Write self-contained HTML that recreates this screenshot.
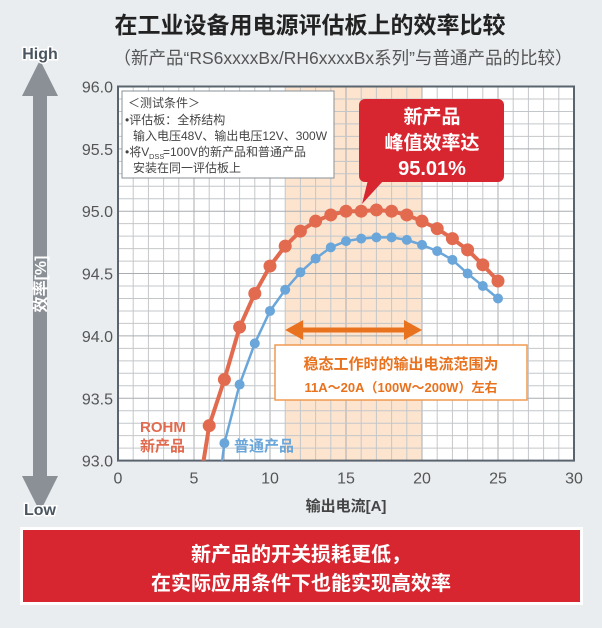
<!DOCTYPE html>
<html><head><meta charset="utf-8"><style>
html,body{margin:0;padding:0;background:#e9edf0;}
body{width:602px;height:623px;overflow:hidden;font-family:"Liberation Sans","Noto Sans CJK SC",sans-serif;}
svg text{font-family:"Liberation Sans","Noto Sans CJK SC",sans-serif;}
</style></head><body>
<svg id="chart" width="602" height="623" viewBox="0 0 602 623" xmlns="http://www.w3.org/2000/svg">
<text x="310" y="33" text-anchor="middle" font-size="23" font-weight="bold" fill="#222">在工业设备用电源评估板上的效率比较</text>
<text x="343" y="64" text-anchor="middle" font-size="17.5" fill="#555">（新产品“RS6xxxxBx/RH6xxxxBx系列”与普通产品的比较）</text>
<g id="plot"></g>
<g>
<rect x="33" y="80" width="14" height="410" fill="#8a9096"/>
<polygon points="40,60 22,96 58,96" fill="#8a9096"/>
<polygon points="40,512 22,476 58,476" fill="#8a9096"/>
</g>
<text x="40" y="59" text-anchor="middle" font-size="16" font-weight="bold" fill="#4a5560" stroke="#fff" stroke-width="3" paint-order="stroke">High</text>
<text x="40" y="515" text-anchor="middle" font-size="16" font-weight="bold" fill="#4a5560" stroke="#fff" stroke-width="3" paint-order="stroke">Low</text>
<text transform="translate(46,284) rotate(-90)" text-anchor="middle" font-size="16" font-weight="bold" fill="#fff">效率[%]</text>
<text x="346" y="511" text-anchor="middle" font-size="15" font-weight="bold" fill="#444">输出电流[A]</text>
<g>
<rect x="20" y="527" width="563" height="78" fill="#fff"/>
<rect x="23" y="530" width="557" height="72" fill="#d72630"/>
<text x="301" y="561" text-anchor="middle" font-size="20" font-weight="bold" fill="#fff">新产品的开关损耗更低，</text>
<text x="301" y="590" text-anchor="middle" font-size="20" font-weight="bold" fill="#fff">在实际应用条件下也能实现高效率</text>
</g>
</svg>
<script>
const xTicks=[0,5,10,15,20,25,30];
const yTicks=[93.0,93.5,94.0,94.5,95.0,95.5,96.0];
const rohmX=[5.5,6,7,8,9,10,11,12,13,14,15,16,17,18,19,20,21,22,23,24,25];
const rohmY=[92.9,93.28,93.65,94.07,94.34,94.56,94.72,94.84,94.92,94.97,95.0,95.0,95.01,95.0,94.97,94.92,94.86,94.78,94.69,94.57,94.44];
const normX=[6.75,7,8,9,10,11,12,13,14,15,16,17,18,19,20,21,22,23,24,25];
const normY=[92.9,93.14,93.61,93.94,94.2,94.37,94.51,94.62,94.71,94.76,94.78,94.79,94.79,94.77,94.73,94.68,94.61,94.5,94.4,94.3];
const bandRange=[11,20];
const NS="http://www.w3.org/2000/svg";
const L=118,R=574,T=86.5,B=460.6;
const sx=v=>L+(v-0)/30*(R-L);
const sy=v=>B-(v-93)/3*(B-T);
const plot=document.getElementById('plot');
function mk(tag,attrs,parent){const e=document.createElementNS(NS,tag);for(const k in attrs)e.setAttribute(k,attrs[k]);(parent||plot).appendChild(e);return e;}
let e=mk('rect',{x:L,y:T,width:R-L,height:B-T,fill:'#fff'});


e=mk('rect',{x:sx(bandRange[0]),y:T,width:sx(bandRange[1])-sx(bandRange[0]),height:B-T,fill:'#fce4cf'});


for(let i=1;i<30;i++){e=mk('line',{x1:sx(i),x2:sx(i),y1:T,y2:B,stroke:i%5?'#c4c7ca':'#a9adb1','stroke-width':1});

}
for(let i=1;i<30;i++){const v=93+i*0.1;e=mk('line',{x1:L,x2:R,y1:sy(v),y2:sy(v),stroke:i%5?'#c4c7ca':'#a9adb1','stroke-width':1});

}
e=mk('rect',{x:L,y:T,width:R-L,height:B-T,fill:'none',stroke:'#5a646e','stroke-width':2});


xTicks.forEach(t=>{e=mk('text',{x:sx(t),y:B+23,'text-anchor':'middle','font-size':16,fill:'#555'});e.textContent=t;

});
yTicks.forEach(t=>{e=mk('text',{x:L-5,y:sy(t)+6,'text-anchor':'end','font-size':16,fill:'#555'});e.textContent=t.toFixed(1);

});
const g=mk('g',{});


mk('rect',{x:122,y:91,width:212,height:87,fill:'#fff',stroke:'#8a9096','stroke-width':1},g);
[['＜测试条件＞',128,107],['•评估板：全桥结构',125,124],['输入电压48V、输出电压12V、300W',133,140],['•将V',125,156],['安装在同一评估板上',133,172]].forEach(a=>{const t=mk('text',{x:a[1],y:a[2],'font-size':12,fill:'#444'},g);t.textContent=a[0];});
let t=mk('text',{x:149,y:159,'font-size':7.5,fill:'#444'},g);t.textContent='DSS';
t=mk('text',{x:163,y:156,'font-size':12,fill:'#444'},g);t.textContent='=100V的新产品和普通产品';
const clip=mk('clipPath',{id:'pc'});mk('rect',{x:L,y:T,width:R-L,height:B-T},clip);
function series(xs,ys,col,w,r,name){
 const gg=mk('g',{'clip-path':'url(#pc)'});
 
 
 mk('polyline',{points:xs.map((x,i)=>sx(x)+','+sy(ys[i])).join(' '),fill:'none',stroke:col,'stroke-width':w,'stroke-linejoin':'round'},gg);
 xs.forEach((x,i)=>{if(Number.isInteger(x)){const c=mk('circle',{cx:sx(x),cy:sy(ys[i]),r:r,fill:col},gg);
 
 }});
}
series(normX,normY,'#6aa6d9',2.5,5,'normal-product-series');
series(rohmX,rohmY,'#e26b4f',4,6.5,'rohm-series');
e=mk('text',{x:140,y:432,'font-size':15,'font-weight':'bold',fill:'#e26b4f'});e.textContent='ROHM';


e=mk('text',{x:140,y:451,'font-size':15,'font-weight':'bold',fill:'#e26b4f'});e.textContent='新产品';


e=mk('text',{x:234,y:451,'font-size':15,'font-weight':'bold',fill:'#6aa6d9'});e.textContent='普通产品';


const ar=mk('g',{});


mk('line',{x1:sx(11)+12,x2:sx(20)-12,y1:330,y2:330,stroke:'#e8721e','stroke-width':5},ar);
mk('polygon',{points:`${sx(11)},330 ${sx(11)+18},320 ${sx(11)+18},340`,fill:'#e8721e'},ar);
mk('polygon',{points:`${sx(20)},330 ${sx(20)-18},320 ${sx(20)-18},340`,fill:'#e8721e'},ar);
const ob=mk('g',{});


mk('rect',{x:275,y:345,width:252,height:55,fill:'#fff',stroke:'#f09a50','stroke-width':1.5},ob);
t=mk('text',{x:401,y:369,'text-anchor':'middle','font-size':15,'font-weight':'bold',fill:'#e8721e'},ob);t.textContent='稳态工作时的输出电流范围为';
t=mk('text',{x:401,y:392,'text-anchor':'middle','font-size':13,'font-weight':'bold',fill:'#e8721e'},ob);t.textContent='11A～20A（100W～200W）左右';
const cb=mk('g',{});


mk('rect',{x:359,y:99,width:145,height:83,rx:6,fill:'#d72630'},cb);
mk('polygon',{points:'368,180 384,180 362,204',fill:'#d72630'},cb);
[['新产品',123,19],['峰值效率达',149,19],['95.01%',175,20]].forEach(a=>{const tt=mk('text',{x:432,y:a[1],'text-anchor':'middle','font-size':a[2],'font-weight':'bold',fill:'#fff'},cb);tt.textContent=a[0];});
</script>
</body></html>
